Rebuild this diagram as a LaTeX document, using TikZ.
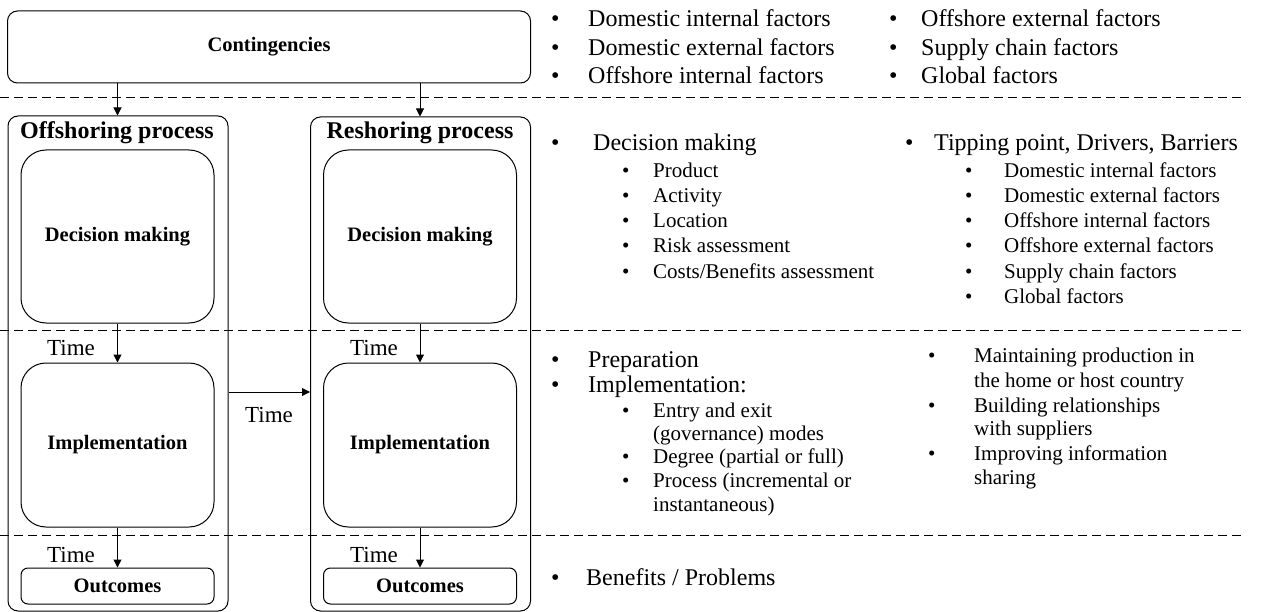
\documentclass[tikz,border=0pt]{standalone}
\usepackage{fontspec}
\setmainfont{Liberation Serif}
\usetikzlibrary{arrows.meta}
\begin{document}
\begin{tikzpicture}[x=1pt,y=-1pt,
  box/.style={draw, line width=1pt, rounded corners=10pt, inner sep=0pt},
  inbox/.style={draw, line width=1pt, rounded corners=25pt, inner sep=0pt,
    minimum width=193pt, font=\fontsize{20.5}{24}\selectfont\bfseries},
  outbox/.style={draw, line width=1pt, rounded corners=7pt, inner sep=0pt,
    minimum width=193pt, minimum height=36pt, font=\fontsize{20.5}{24}\selectfont\bfseries},
  flow/.style={line width=1pt, -{Triangle[length=8pt,width=8pt]}},
  sep/.style={dash pattern=on 9pt off 5pt, line width=0.9pt},
  lbl/.style={inner sep=0pt, anchor=west, text height=0.72em, text depth=0.22em},
  big/.style={lbl, font=\fontsize{24}{28}\selectfont},
  sml/.style={lbl, font=\fontsize{21}{25}\selectfont},
  timelbl/.style={inner sep=0pt, font=\fontsize{23}{26}\selectfont},
  title/.style={inner sep=0pt, font=\fontsize{24}{28}\selectfont\bfseries}]
\useasboundingbox (0,0) rectangle (1263,612);

% section separators
\draw[sep] (0,97) -- (1243,97);
\draw[sep] (0,330) -- (1243,330);
\draw[sep] (0,535) -- (1243,535);

% left: process boxes
\node[box, minimum width=523pt, minimum height=72pt,
  font=\fontsize{20.5}{24}\selectfont\bfseries] (cont) at (269,47) {Contingencies};

\node[box, minimum width=220pt, minimum height=495pt] (off) at (118,363.5) {};
\node[box, minimum width=220pt, minimum height=494pt] (res) at (420.5,364) {};
\node[title] (offt) at (117,133) {Offshoring process};
\node[title] (rest) at (420,133) {Reshoring process};

\node[inbox, minimum height=173pt] (offdec) at (117.5,236.5) {Decision making};
\node[inbox, minimum height=164pt] (offimp) at (117.5,445) {Implementation};
\node[outbox] (offout) at (117.5,586) {Outcomes};

\node[inbox, minimum height=173pt] (resdec) at (420,236.5) {Decision making};
\node[inbox, minimum height=164pt] (resimp) at (420,445) {Implementation};
\node[outbox] (resout) at (420,586) {Outcomes};

% connectors
\draw[flow] (cont.south -| offdec.north) -- (offdec.north |- off.north);
\draw[flow] (cont.south -| resdec.north) -- (resdec.north |- res.north);
\draw[flow] (offdec) -- (offimp);
\draw[flow] (offimp) -- (offout);
\draw[flow] (resdec) -- (resimp);
\draw[flow] (resimp) -- (resout);
\coordinate (tarr) at (0,392);
\draw[flow] (off.east |- tarr) -- (res.west |- tarr);

\node[timelbl] (tm1) at (71,348) {Time};
\node[timelbl] (tm2) at (71,555) {Time};
\node[timelbl] (tm3) at (374,348) {Time};
\node[timelbl] (tm4) at (374,555) {Time};
\node[timelbl] (tm5) at (269,415) {Time};

% right: contingency factors
\node[big] (a1b) at (551,24) {•}; \node[big] (a1) at (588,24) {Domestic internal factors};
\node[big] (a2b) at (551,53) {•}; \node[big] (a2) at (588,53) {Domestic external factors};
\node[big] (a3b) at (551,81) {•}; \node[big] (a3) at (588,81) {Offshore internal factors};
\node[big] (a4b) at (889,24) {•}; \node[big] (a4) at (921,24) {Offshore external factors};
\node[big] (a5b) at (889,53) {•}; \node[big] (a5) at (921,53) {Supply chain factors};
\node[big] (a6b) at (889,81) {•}; \node[big] (a6) at (921,81) {Global factors};

% right: decision making
\node[big] (b0b) at (551,148) {•}; \node[big] (b0) at (593,148) {Decision making};
\node[sml] (b1b) at (622,175) {•}; \node[sml] (b1) at (653,175) {Product};
\node[sml] (b2b) at (622,200) {•}; \node[sml] (b2) at (653,200) {Activity};
\node[sml] (b3b) at (622,225) {•}; \node[sml] (b3) at (653,225) {Location};
\node[sml] (b4b) at (622,250) {•}; \node[sml] (b4) at (653,250) {Risk assessment};
\node[sml] (b5b) at (622,276) {•}; \node[sml] (b5) at (653,276) {Costs/Benefits assessment};

\node[big] (c0b) at (905,148) {•}; \node[big] (c0) at (934,148) {Tipping point, Drivers, Barriers};
\node[sml] (c1b) at (965,175) {•}; \node[sml] (c1) at (1004,175) {Domestic internal factors};
\node[sml] (c2b) at (965,200) {•}; \node[sml] (c2) at (1004,200) {Domestic external factors};
\node[sml] (c3b) at (965,225) {•}; \node[sml] (c3) at (1004,225) {Offshore internal factors};
\node[sml] (c4b) at (965,250) {•}; \node[sml] (c4) at (1004,250) {Offshore external factors};
\node[sml] (c5b) at (965,276) {•}; \node[sml] (c5) at (1004,276) {Supply chain factors};
\node[sml] (c6b) at (965,301) {•}; \node[sml] (c6) at (1004,301) {Global factors};

% right: implementation
\node[big] (d1b) at (551,365) {•}; \node[big] (d1) at (588,365) {Preparation};
\node[big] (d2b) at (551,390) {•}; \node[big] (d2) at (588,390) {Implementation:};
\node[sml] (d3b) at (622,415) {•}; \node[sml] (d3) at (653,415) {Entry and exit};
\node[sml] (d3c) at (653,438) {(governance) modes};
\node[sml] (d4b) at (622,461) {•}; \node[sml] (d4) at (653,461) {Degree (partial or full)};
\node[sml] (d5b) at (622,485) {•}; \node[sml] (d5) at (653,485) {Process (incremental or};
\node[sml] (d5c) at (653,509) {instantaneous)};

\node[sml] (e1b) at (928,360) {•}; \node[sml] (e1) at (974,360) {Maintaining production in};
\node[sml] (e1c) at (974,385) {the home or host country};
\node[sml] (e2b) at (928,410) {•}; \node[sml] (e2) at (974,410) {Building relationships};
\node[sml] (e2c) at (974,433) {with suppliers};
\node[sml] (e3b) at (928,458) {•}; \node[sml] (e3) at (974,458) {Improving information};
\node[sml] (e3c) at (974,482) {sharing};

% right: outcomes
\node[big] (f1b) at (551,583) {•}; \node[big] (f1) at (586,583) {Benefits / Problems};
\end{tikzpicture}
\end{document}
